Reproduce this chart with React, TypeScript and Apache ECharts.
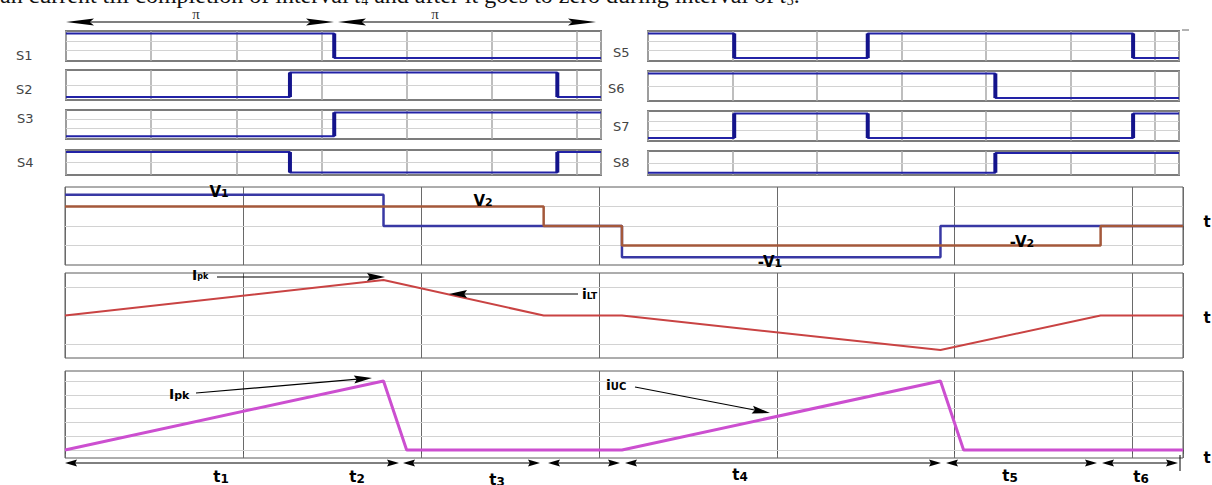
import { useEffect, useRef } from "react";
import * as echarts from "echarts";

const TWO_PI = 6.283;

// Gate signals (levels 0/1) — initial state and switching instants in rad
const signalNames = ["S1", "S2", "S3", "S4", "S5", "S6", "S7", "S8"];
const signalStart = [1, 0, 0, 1, 1, 1, 0, 0];
const signalEdges = [
  [3.15],
  [2.63, 5.77],
  [3.15],
  [2.63, 5.77],
  [1.02, 2.6, 5.74],
  [4.11],
  [1.02, 2.6, 5.74],
  [4.11],
];
const signalGridLines = [
  [0.33, 0.69],
  [0.5],
  [0.33, 0.69],
  [0.5],
  [0.33, 0.69],
  [0.5],
  [0.33, 0.69],
  [0.5],
];

// Transformer voltages (V1 blue, V2 orange)
const vBlueTimes = [0, 1.79, 3.13, 4.92, TWO_PI];
const vBlueLevels = [1.6, 0, -1.6, 0];
const vOrangeTimes = [0, 2.69, 3.13, 5.82, TWO_PI];
const vOrangeLevels = [1.0, 0, -1.0, 0];

// Inductor current iLT
const iltTimes = [0, 1.79, 2.69, 3.13, 4.92, 5.82, TWO_PI];
const iltValues = [0, 1.25, 0, 0, -1.22, 0, 0];

// Ultracapacitor current iUC
const iucTimes = [0, 1.79, 1.92, 3.13, 4.92, 5.05, TWO_PI];
const iucValues = [0, 5, 0, 0, 5, 0, 0];

const topSentence =
  "an current till completion of interval {i|t}{sub|4} and after it goes to zero during interval of {i|t}{sub|3}.";

function stepFromEdges(start: number, edges: number[]) {
  const pts: number[][] = [[0, start]];
  let lvl = start;
  for (const e of edges) {
    pts.push([e, lvl]);
    lvl = 1 - lvl;
    pts.push([e, lvl]);
  }
  pts.push([TWO_PI, lvl]);
  return pts;
}

function stepFromLevels(times: number[], levels: number[]) {
  const pts: number[][] = [];
  for (let i = 0; i < levels.length; i++) {
    pts.push([times[i], levels[i]]);
    pts.push([times[i + 1], levels[i]]);
  }
  return pts;
}

function zip(a: number[], b: number[]) {
  return a.map((v, i) => [v, b[i]]);
}

function arrowEls(
  x1: number,
  y1: number,
  x2: number,
  y2: number,
  len: number,
  hw: number,
  both: boolean,
  lw = 1.2
) {
  const dx = x2 - x1;
  const dy = y2 - y1;
  const L = Math.hypot(dx, dy);
  const ux = dx / L;
  const uy = dy / L;
  const head = (tx: number, ty: number, ax: number, ay: number) => ({
    type: "polygon",
    z: 100,
    shape: {
      points: [
        [tx, ty],
        [tx - ax * len - ay * hw, ty - ay * len + ax * hw],
        [tx - ax * len * 0.85, ty - ay * len * 0.85],
        [tx - ax * len + ay * hw, ty - ay * len - ax * hw],
      ],
    },
    style: { fill: "#000" },
  });
  const sx = both ? x1 + ux * len * 0.8 : x1;
  const sy = both ? y1 + uy * len * 0.8 : y1;
  const els: any[] = [
    {
      type: "line",
      z: 100,
      shape: { x1: sx, y1: sy, x2: x2 - ux * len * 0.8, y2: y2 - uy * len * 0.8 },
      style: { stroke: "#000", lineWidth: lw },
    },
    head(x2, y2, ux, uy),
  ];
  if (both) els.push(head(x1, y1, -ux, -uy));
  return els;
}

const sigGrids = [
  { left: 66, top: 31, width: 535, height: 30 },
  { left: 66, top: 70, width: 535, height: 30 },
  { left: 66, top: 110, width: 535, height: 29 },
  { left: 66, top: 150, width: 535, height: 25 },
  { left: 648, top: 31, width: 531, height: 30 },
  { left: 648, top: 71, width: 531, height: 30 },
  { left: 648, top: 111, width: 531, height: 30 },
  { left: 648, top: 151, width: 531, height: 24 },
];
const bottomGrids = [
  { left: 65, top: 187, width: 1118, height: 78 },
  { left: 65, top: 273, width: 1118, height: 85 },
  { left: 65, top: 371, width: 1118, height: 87 },
];
const bottomRanges = [
  [-2, 2],
  [-1.5, 1.5],
  [-0.58, 5.72],
];
const bottomGridLines = [
  [-1, 0, 1],
  [-1, 0, 1],
  [0, 1, 2, 3, 4, 5],
];

const sigLabelPos = [
  [16, 55],
  [16, 89],
  [17, 118],
  [17, 162],
  [613, 52],
  [608, 88],
  [613, 126],
  [613, 162],
];

const SANS = '"DejaVu Sans", Verdana, sans-serif';

export default function App() {
  const ref = useRef<HTMLDivElement>(null);
  useEffect(() => {
    const chart = echarts.init(ref.current!, null, { renderer: "svg" });

    const grids: any[] = [
      ...sigGrids.map((g) => ({
        ...g,
        show: true,
        borderColor: "#7c7c7c",
        borderWidth: 2,
        backgroundColor: "#fff",
      })),
      ...bottomGrids.map((g) => ({
        ...g,
        show: true,
        borderColor: "#5a5a5a",
        borderWidth: 1,
        backgroundColor: "#fff",
      })),
    ];

    const xAxes: any[] = grids.map((_, i) => ({
      type: "value",
      gridIndex: i,
      min: 0,
      max: TWO_PI,
      interval: 1,
      axisLabel: { show: false },
      axisLine: { show: false },
      axisTick: { show: i >= 8, length: 4, lineStyle: { color: "#555" } },
      splitLine: {
        show: true,
        lineStyle: { color: i < 8 ? "#a9a9a9" : "#6a6a6a", width: i < 8 ? 1.5 : 1 },
      },
    }));

    const yAxes: any[] = [];
    sigGrids.forEach((_, i) => {
      yAxes.push({
        type: "value",
        gridIndex: i,
        min: -0.12,
        max: 1.1,
        axisLabel: { show: false },
        axisLine: { show: false },
        axisTick: { show: false },
        splitLine: { show: false },
      });
    });
    bottomGrids.forEach((_, j) => {
      ["left", "right"].forEach((pos) => {
        yAxes.push({
          type: "value",
          gridIndex: 8 + j,
          position: pos,
          min: bottomRanges[j][0],
          max: bottomRanges[j][1],
          axisLabel: { show: false },
          axisLine: { show: false },
          axisTick: {
            show: true,
            inside: true,
            length: 7,
            customValues: bottomGridLines[j],
            lineStyle: { color: "#777" },
          },
          splitLine: { show: false },
        });
      });
    });

    const gridLineSeries = (xi: number, yi: number, vals: number[]) => ({
      type: "line",
      xAxisIndex: xi,
      yAxisIndex: yi,
      data: [[0, vals[0]]],
      symbol: "none",
      silent: true,
      z: 1,
      lineStyle: { opacity: 0 },
      markLine: {
        silent: true,
        z: 1,
        symbol: ["none", "none"],
        label: { show: false },
        lineStyle: { color: "#d2d2d2", width: 1, type: "solid" },
        data: vals.map((v) => ({ yAxis: v })),
      },
    });

    const series: any[] = [];
    signalNames.forEach((name, i) => {
      series.push(gridLineSeries(i, i, signalGridLines[i]));
      series.push({
        name,
        type: "line",
        xAxisIndex: i,
        yAxisIndex: i,
        data: stepFromEdges(signalStart[i], signalEdges[i]),
        symbol: "none",
        z: 10,
        lineStyle: { color: "#2222a6", width: 2 },
      });
      signalEdges[i].forEach((e) => {
        series.push({
          type: "line",
          xAxisIndex: i,
          yAxisIndex: i,
          data: [
            [e, 0],
            [e, 1],
          ],
          symbol: "none",
          z: 11,
          lineStyle: { color: "#14148c", width: 4 },
        });
      });
    });

    // bottom panels: y axis indices 8 (V), 10 (iLT), 12 (iUC)
    series.push(gridLineSeries(8, 8, bottomGridLines[0]));
    series.push(gridLineSeries(9, 10, bottomGridLines[1]));
    series.push(gridLineSeries(10, 12, bottomGridLines[2]));

    series.push({
      name: "V1",
      type: "line",
      xAxisIndex: 8,
      yAxisIndex: 8,
      data: stepFromLevels(vBlueTimes, vBlueLevels),
      symbol: "none",
      z: 10,
      lineStyle: { color: "#3838a4", width: 2.5 },
    });
    series.push({
      name: "V2",
      type: "line",
      xAxisIndex: 8,
      yAxisIndex: 8,
      data: stepFromLevels(vOrangeTimes, vOrangeLevels),
      symbol: "none",
      z: 11,
      lineStyle: { color: "#a4583a", width: 2.5 },
    });
    series.push({
      name: "iLT",
      type: "line",
      xAxisIndex: 9,
      yAxisIndex: 10,
      data: zip(iltTimes, iltValues),
      symbol: "none",
      z: 10,
      lineStyle: { color: "#c94343", width: 2 },
    });
    series.push({
      name: "iUC",
      type: "line",
      xAxisIndex: 10,
      yAxisIndex: 12,
      data: zip(iucTimes, iucValues),
      symbol: "none",
      z: 10,
      lineStyle: { color: "#cc4fd0", width: 3 },
    });

    const g: any[] = [];
    const txt = (x: number, y: number, text: string, style: any = {}) => ({
      type: "text",
      x,
      y,
      z: 100,
      style: {
        text,
        fill: "#000",
        align: "center",
        verticalAlign: "middle",
        ...style,
      },
    });

    // clipped sentence at top
    g.push(
      txt(0, 7, topSentence, {
        align: "left",
        verticalAlign: "bottom",
        fontFamily: '"Liberation Serif", "Times New Roman", serif',
        fontSize: 24,
        fill: "#111",
        rich: {
          i: { fontFamily: '"Liberation Serif", serif', fontSize: 24, fontStyle: "italic", fill: "#111" },
          sub: { fontFamily: '"Liberation Serif", serif', fontSize: 14, fill: "#111", padding: [10, 0, 0, 0] },
        },
      })
    );

    // pi arrows
    g.push(...arrowEls(66, 22, 334, 22, 28, 3.6, true));
    g.push(...arrowEls(338, 22, 596, 22, 28, 3.6, true));
    g.push(txt(196, 14, "π", { fontFamily: '"Liberation Serif", serif', fontSize: 15, fill: "#333" }));
    g.push(txt(435, 14, "π", { fontFamily: '"Liberation Serif", serif', fontSize: 15, fill: "#333" }));

    // S labels
    signalNames.forEach((n, i) => {
      g.push(
        txt(sigLabelPos[i][0], sigLabelPos[i][1], n, {
          align: "left",
          fontFamily: SANS,
          fontSize: 13,
          fill: "#444",
        })
      );
    });

    // small mark at the top-right corner of S5 panel
    g.push({
      type: "line",
      z: 100,
      shape: { x1: 1182, y1: 30, x2: 1189, y2: 30 },
      style: { stroke: "#666", lineWidth: 1 },
    });

    const bigSub = (main: string, sub: string, mainSize = 15, subSize = 11) => ({
      text: `{b|${main}}{s|${sub}}`,
      rich: {
        b: { fontFamily: SANS, fontWeight: "bold", fontSize: mainSize, fill: "#000" },
        s: { fontFamily: SANS, fontWeight: "bold", fontSize: subSize, fill: "#000", padding: [3, 0, 0, 0] },
      },
    });
    const richTxt = (x: number, y: number, r: any, align = "center") => ({
      type: "text",
      x,
      y,
      z: 100,
      style: { ...r, align, verticalAlign: "middle" },
    });

    g.push(richTxt(219, 192, bigSub("V", "1")));
    g.push(richTxt(483, 201, bigSub("V", "2")));
    g.push(richTxt(770, 262, bigSub("-V", "1")));
    g.push(richTxt(1022, 242, bigSub("-V", "2")));

    // Ipk arrow (iLT panel)
    g.push(richTxt(192, 275, bigSub("I", "pk", 14, 8), "left"));
    g.push(...arrowEls(217, 277, 385, 277, 18, 4, false));
    // iLT arrow
    g.push(...arrowEls(578, 294, 449, 294, 18, 4, false));
    g.push(richTxt(582, 294, bigSub("i", "LT", 14, 9), "left"));

    // Ipk arrow (iUC panel)
    g.push(richTxt(169, 394, bigSub("I", "pk", 14, 11), "left"));
    g.push(...arrowEls(196, 393, 372, 378, 18, 4, false));
    // iUC arrow
    g.push(richTxt(606, 385, bigSub("i", "UC", 14, 10), "left"));
    g.push(...arrowEls(635, 387, 770, 413, 18, 4, false));

    // 't' axis labels
    [222, 318, 458].forEach((y) =>
      g.push(txt(1207, y, "t", { fontFamily: SANS, fontWeight: "bold", fontSize: 15 }))
    );

    // time interval arrows
    const segs = [
      [65, 399],
      [403, 540],
      [548, 620],
      [625, 941],
      [946, 1097],
      [1102, 1178],
    ];
    segs.forEach(([a, b]) => g.push(...arrowEls(a, 463, b, 463, 12, 3.5, true, 1)));
    g.push({
      type: "line",
      z: 100,
      shape: { x1: 1180, y1: 455, x2: 1180, y2: 471 },
      style: { stroke: "#000", lineWidth: 1 },
    });
    const tLabels = [
      [221, 477, "1"],
      [357, 477, "2"],
      [497, 480, "3"],
      [740, 475, "4"],
      [1010, 476, "5"],
      [1141, 477, "6"],
    ];
    tLabels.forEach(([x, y, s]) => g.push(richTxt(x as number, y as number, bigSub("t", s as string, 15, 12))));

    chart.setOption({
      animation: false,
      backgroundColor: "#fff",
      grid: grids,
      xAxis: xAxes,
      yAxis: yAxes,
      series,
      graphic: { elements: g },
    });
    return () => chart.dispose();
  }, []);
  return (
    <div
      ref={ref}
      style={{ position: "absolute", left: 0, top: 0, width: 1212, height: 485, background: "#fff" }}
    />
  );
}
